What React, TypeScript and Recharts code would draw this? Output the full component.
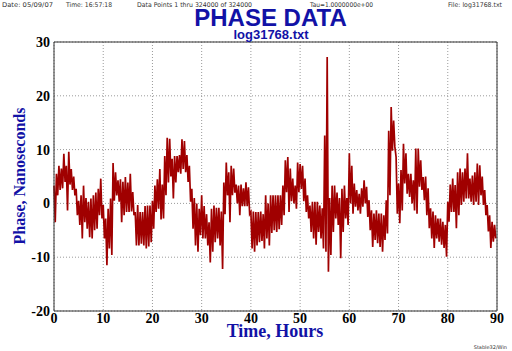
import { CartesianGrid, Line, LineChart, XAxis, YAxis } from "recharts";

// phase envelope per half-hour bin (ns): upper and lower excursion
const BIN_HOURS = 0.5;

const phaseHigh = [
  3.3, 5.5, 7, 6.5, 9.2, 7, 9.6, 6.4, 5, 2.7,
  0.5, 1.5, 3.3, 1, 0.3, 0.9, 1.5, 2, 2.7, 4.6,
  -0.3, -2.8, -1, 0.9, 7.5, 5.8, 4.3, 4.5, 4, 4.9,
  3.9, 5.5, 2.1, -1.6, -0.3, -1.6, -1.6, -0.5, -0.4, -0.4,
  0.5, 3.3, 4.5, 6.4, 3.5, 8.8, 12.2, 12, 8.3, 8.8,
  8.8, 9, 11.9, 11.6, 9, 7, 2.7, 1, 0, -1,
  1.5, -0.5, -2, -3.5, -1, -0.4, -0.8, -0.8, -1.5, 3.9,
  7.6, 5.8, 7, 6.5, 3.5, 3.3, 3.5, 2.8, 3.9, 3,
  -1.6, -1.5, -1.6, -1.6, -1.5, -2, 1.5, 0, 1.5, 1.5,
  1.5, 1.5, 1.5, 3.3, 8, 8.6, 6.5, 4.6, 3.3, 7.6,
  7.3, 7, 4.6, 1.5, -0.4, 0.3, 0.3, 0.3, -0.4, -0.9,
  12.6, 27.2, 1, 3.3, 3.3, 2, 1, 2.7, 3.3, 1,
  9.3, 7, 3.7, 2.5, 1.8, 2.8, 4.3, 3.1, 0.6, -1.3,
  -1.9, -1.3, -1.9, -1.9, -2.2, 0.6, 13.5, 17.9, 15.4, 8.6,
  3.7, 6.2, 11.1, 9.3, 5.5, 5.5, 4.3, 10.2, 10.2, 8,
  4.9, 5, 2.8, -0.9, -1.5, -2.2, -2.8, -2.8, -3.4, -4,
  0.3, 3.5, 4.6, 3.4, 5.8, 6.5, 5.8, 6.5, 9.3, 4.6,
  5.2, 5.8, 7.4, 7.1, 5, 2.5, -0.3, -2.2, -3.4, -4,
];

const phaseLow = [
  -3.5, 1.5, 2.5, 2.8, 4, -1.3, 3.5, 2.5, 1.5, -2.2,
  -4, -6.5, -3.5, -4.7, -6.3, -6.5, -5, -4.7, -2.2, -2.8,
  -6.5, -11.5, -8.4, -9.6, 0.5, 1.5, 0.3, -3.5, -2.2, -1.6,
  -1.6, -1.5, -2.2, -7.8, -7.8, -7.5, -7.8, -8.4, -8, -7.2,
  -4.7, -1.6, -1, -3, -2.8, 1.5, 3.9, 5, 0.9, 3.9,
  5.8, 5.5, 6.4, 5.8, 4, 0.3, -4.7, -7.8, -9, -5.9,
  -6.5, -6.5, -7.8, -11, -9, -7.2, -6.5, -7.8, -12.2, -2,
  1.5, -3.5, 1.5, 2, 0, -2.2, -0.5, -0.5, -0.5, -2,
  -8.4, -9, -7.8, -7.2, -7, -8.4, -6.5, -7.8, -5.5, -5,
  -5.3, -4.8, -4, -2.2, 2.1, -1.6, 0.4, 0, -1, 2.1,
  2.7, 0.4, -1.6, -2.8, -5.3, -6.5, -7.7, -5.3, -6.5, -8.4,
  -9, -12.7, -9.6, -5.3, -2.8, -4, -10.2, -5.3, -2.8, -4,
  0, -1.9, -0.6, -1.3, -1.9, -0.6, 0, -2.5, -5, -8.1,
  -6.8, -7.4, -8.1, -9, -6.8, -5.6, 1.5, 9.8, 10.5, -1.9,
  -3.7, -1.3, 3.7, 1.8, 1.2, 0, -1.3, -1.9, 3.1, 2.5,
  0.6, -2.2, -4.6, -6.5, -8.3, -6.5, -7.1, -7.7, -8.3, -9.9,
  -3.4, -1.6, -1.6, -4.6, -2.2, -0.3, 0.3, 0.9, 0.9, 0.3,
  -0.3, 0.3, -0.3, 1.5, -0.3, -2.2, -5.2, -8.3, -7.1, -6.5,
];

const hourTicks = [0, 10, 20, 30, 40, 50, 60, 70, 80, 90];
const hourMinorTicks = [
  0, 2, 4, 6, 8, 10, 12, 14, 16, 18, 20, 22, 24, 26, 28, 30, 32, 34, 36, 38, 40, 42, 44,
  46, 48, 50, 52, 54, 56, 58, 60, 62, 64, 66, 68, 70, 72, 74, 76, 78, 80, 82, 84, 86, 88, 90,
];
const phaseTicks = [-20, -10, 0, 10, 20, 30];
const phaseMinorTicks = [
  -20, -18, -16, -14, -12, -10, -8, -6, -4, -2, 0, 2, 4, 6, 8, 10, 12, 14, 16, 18, 20, 22,
  24, 26, 28, 30,
];

const data = phaseHigh.flatMap((hi, i) => [
  { t: i * BIN_HOURS, v: hi },
  { t: i * BIN_HOURS + BIN_HOURS / 2, v: phaseLow[i] },
]);

const FRAME = "#333333";
const BLUE = "#1212a6";
const tickFont = { fontSize: 14, fontFamily: "Liberation Serif", fontWeight: "bold", fill: "#000" };

export default function App() {
  return (
    <div style={{ position: "absolute", left: 0, top: 0, width: 512, height: 351, background: "#fff" }}>
      <LineChart width={512} height={351} data={data} margin={{ top: 42, right: 15, bottom: 10, left: 14 }}>
        <CartesianGrid xAxisId="b" yAxisId="l" stroke="#9a9a9a" strokeDasharray="1 2" />
        <XAxis
          xAxisId="b"
          dataKey="t"
          type="number"
          domain={[0, 90]}
          ticks={hourTicks}
          interval={0}
          height={30}
          tickSize={0}
          tickMargin={2}
          tickLine={false}
          axisLine={{ stroke: FRAME }}
          tick={tickFont}
        />
        {/* inward frame ticks: minor every 2, major every 10 */}
        <XAxis xAxisId="bm" type="number" domain={[0, 90]} ticks={hourMinorTicks} interval={0} mirror tickSize={3} tick={false} axisLine={false} tickLine={{ stroke: FRAME }} />
        <XAxis xAxisId="bM" type="number" domain={[0, 90]} ticks={hourTicks} interval={0} mirror tickSize={6} tick={false} axisLine={false} tickLine={{ stroke: FRAME }} />
        <XAxis xAxisId="t" orientation="top" type="number" domain={[0, 90]} ticks={hourMinorTicks} interval={0} mirror tickSize={3} tick={false} axisLine={{ stroke: FRAME }} tickLine={{ stroke: FRAME }} />
        <XAxis xAxisId="tM" orientation="top" type="number" domain={[0, 90]} ticks={hourTicks} interval={0} mirror tickSize={6} tick={false} axisLine={false} tickLine={{ stroke: FRAME }} />
        <YAxis
          yAxisId="l"
          type="number"
          domain={[-20, 30]}
          ticks={phaseTicks}
          interval={0}
          width={40}
          tickSize={0}
          tickMargin={4}
          tickLine={false}
          axisLine={{ stroke: FRAME }}
          tick={tickFont}
        />
        <YAxis yAxisId="lm" type="number" domain={[-20, 30]} ticks={phaseMinorTicks} interval={0} mirror tickSize={3} tick={false} axisLine={false} tickLine={{ stroke: FRAME }} />
        <YAxis yAxisId="lM" type="number" domain={[-20, 30]} ticks={phaseTicks} interval={0} mirror tickSize={6} tick={false} axisLine={false} tickLine={{ stroke: FRAME }} />
        <YAxis yAxisId="r" orientation="right" type="number" domain={[-20, 30]} ticks={phaseMinorTicks} interval={0} mirror tickSize={3} tick={false} axisLine={{ stroke: FRAME }} tickLine={{ stroke: FRAME }} />
        <YAxis yAxisId="rM" orientation="right" type="number" domain={[-20, 30]} ticks={phaseTicks} interval={0} mirror tickSize={6} tick={false} axisLine={false} tickLine={{ stroke: FRAME }} />
        <Line
          xAxisId="b"
          yAxisId="l"
          type="linear"
          dataKey="v"
          stroke="#a00000"
          strokeWidth={1.7}
          strokeLinejoin="miter"
          dot={false}
          isAnimationActive={false}
        />
      </LineChart>

      {/* titles and captions */}
      <svg width={512} height={351} style={{ position: "absolute", left: 0, top: 0, pointerEvents: "none" }}>
        <g fontFamily="DejaVu Sans" fontSize={6.5} fill="#333">
          <text x={2} y={6.5} textLength={51} lengthAdjust="spacingAndGlyphs">Date: 05/09/07</text>
          <text x={66} y={6.5} textLength={46} lengthAdjust="spacingAndGlyphs">Time: 16:57:18</text>
          <text x={137} y={6.5} textLength={115} lengthAdjust="spacingAndGlyphs">Data Points 1 thru 324000 of 324000</text>
          <text x={310} y={6.5} textLength={63} lengthAdjust="spacingAndGlyphs">Tau=1.0000000e+00</text>
          <text x={448} y={6.5} textLength={54} lengthAdjust="spacingAndGlyphs">File: log31768.txt</text>
        </g>
        <text x={270.5} y={26} textAnchor="middle" fontFamily="Liberation Sans" fontWeight="bold" fontSize={24} fill={BLUE}>
          PHASE DATA
        </text>
        <text x={271} y={39} textAnchor="middle" fontFamily="Liberation Sans" fontWeight="bold" fontSize={13} fill={BLUE}>
          log31768.txt
        </text>
        <text
          transform="translate(25, 176) rotate(-90)"
          textAnchor="middle"
          fontFamily="Liberation Serif"
          fontWeight="bold"
          fontSize={16}
          fill={BLUE}
        >
          Phase, Nanoseconds
        </text>
        <text x={275} y={337} textAnchor="middle" fontFamily="Liberation Serif" fontWeight="bold" fontSize={18} fill={BLUE}>
          Time, Hours
        </text>
        <text x={507} y={349} textAnchor="end" fontFamily="DejaVu Sans" fontSize={5} fill="#333">
          Stable32/Win
        </text>
      </svg>
    </div>
  );
}
